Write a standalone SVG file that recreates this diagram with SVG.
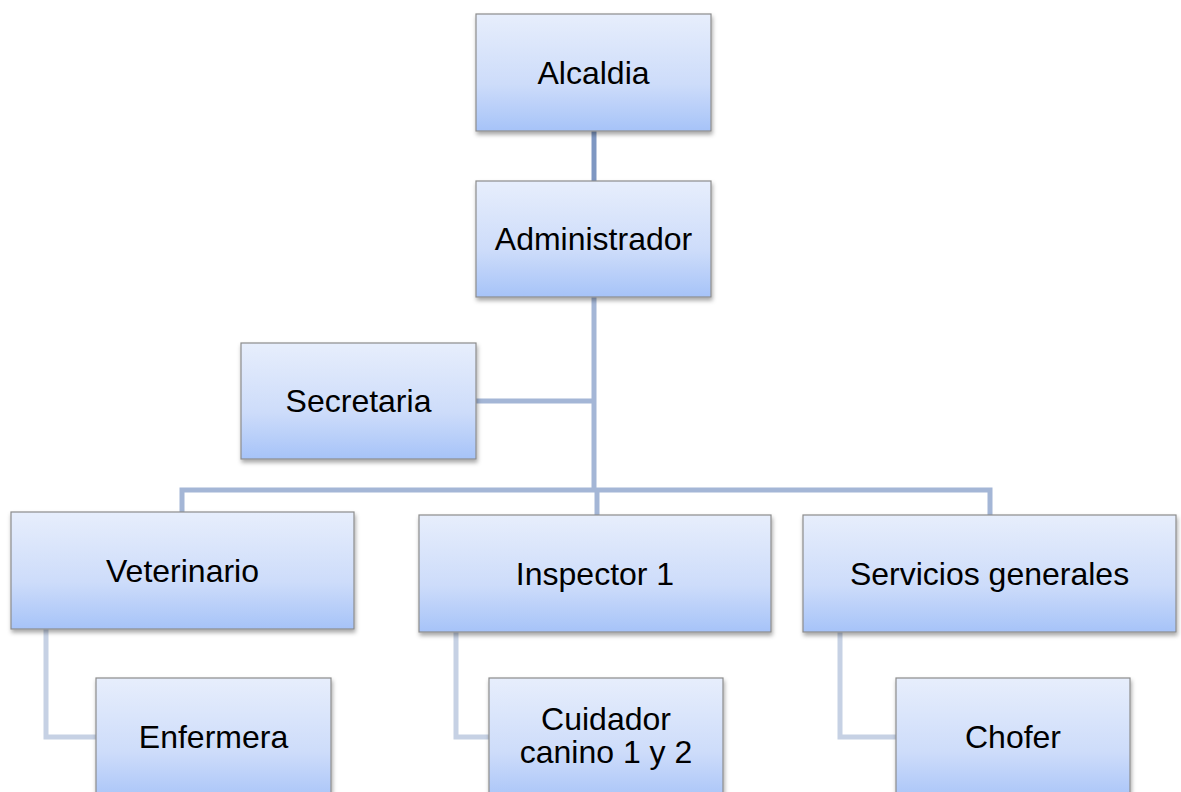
<svg xmlns="http://www.w3.org/2000/svg" width="1181" height="792" viewBox="0 0 1181 792">
<defs>
<linearGradient id="g" x1="0" y1="0" x2="0" y2="1">
<stop offset="0" stop-color="#e7eefc"/>
<stop offset="0.6" stop-color="#cddcfa"/>
<stop offset="1" stop-color="#a6c3f8"/>
</linearGradient>
<filter id="sh" x="-10%" y="-10%" width="120%" height="130%">
<feDropShadow dx="1" dy="3" stdDeviation="2" flood-color="#000" flood-opacity="0.35"/>
</filter>
</defs>
<style>
.box{fill:url(#g);stroke:#8c8c8c;stroke-width:1.2;filter:url(#sh)}
.t{font-family:"Liberation Sans",Arial,sans-serif;font-size:32px;fill:#000;text-anchor:middle}
.c1{fill:none;stroke:#a4b6d6;stroke-width:5}
.c0{fill:none;stroke:#7e97c2;stroke-width:5}
.c2{fill:none;stroke:#c6d1e4;stroke-width:5}
</style>
<g id="connectors">
<line class="c0" x1="594" y1="131" x2="594" y2="181"/>
<polyline class="c1" points="594,297 594,490"/>
<line class="c1" x1="476" y1="401" x2="594" y2="401"/>
<polyline class="c1" points="182,513 182,490 990,490 990,515"/>
<line class="c1" x1="597" y1="490" x2="597" y2="515"/>
<polyline class="c2" points="46,629 46,737 96,737"/>
<polyline class="c2" points="456,632 456,737 489,737"/>
<polyline class="c2" points="840,632 840,737 896,737"/>
</g>
<g id="alcaldia"><rect class="box" x="476" y="14" width="235" height="117"/><text class="t" x="593.5" y="84">Alcaldia</text></g>
<g id="administrador"><rect class="box" x="476" y="181" width="235" height="116"/><text class="t" x="593.5" y="250">Administrador</text></g>
<g id="secretaria"><rect class="box" x="241" y="343" width="235" height="116"/><text class="t" x="358.5" y="412">Secretaria</text></g>
<g id="veterinario"><rect class="box" x="11" y="512" width="343" height="117"/><text class="t" x="182.5" y="582">Veterinario</text></g>
<g id="inspector"><rect class="box" x="419" y="515" width="352" height="117"/><text class="t" x="595" y="585">Inspector 1</text></g>
<g id="servicios"><rect class="box" x="803" y="515" width="373" height="117"/><text class="t" x="989.5" y="585">Servicios generales</text></g>
<g id="enfermera"><rect class="box" x="96" y="678" width="235" height="125"/><text class="t" x="213.5" y="748">Enfermera</text></g>
<g id="cuidador"><rect class="box" x="489" y="678" width="234" height="125"/><text class="t" x="606" y="730">Cuidador</text><text class="t" x="606" y="763">canino 1 y 2</text></g>
<g id="chofer"><rect class="box" x="896" y="678" width="234" height="125"/><text class="t" x="1013" y="748">Chofer</text></g>
</svg>
